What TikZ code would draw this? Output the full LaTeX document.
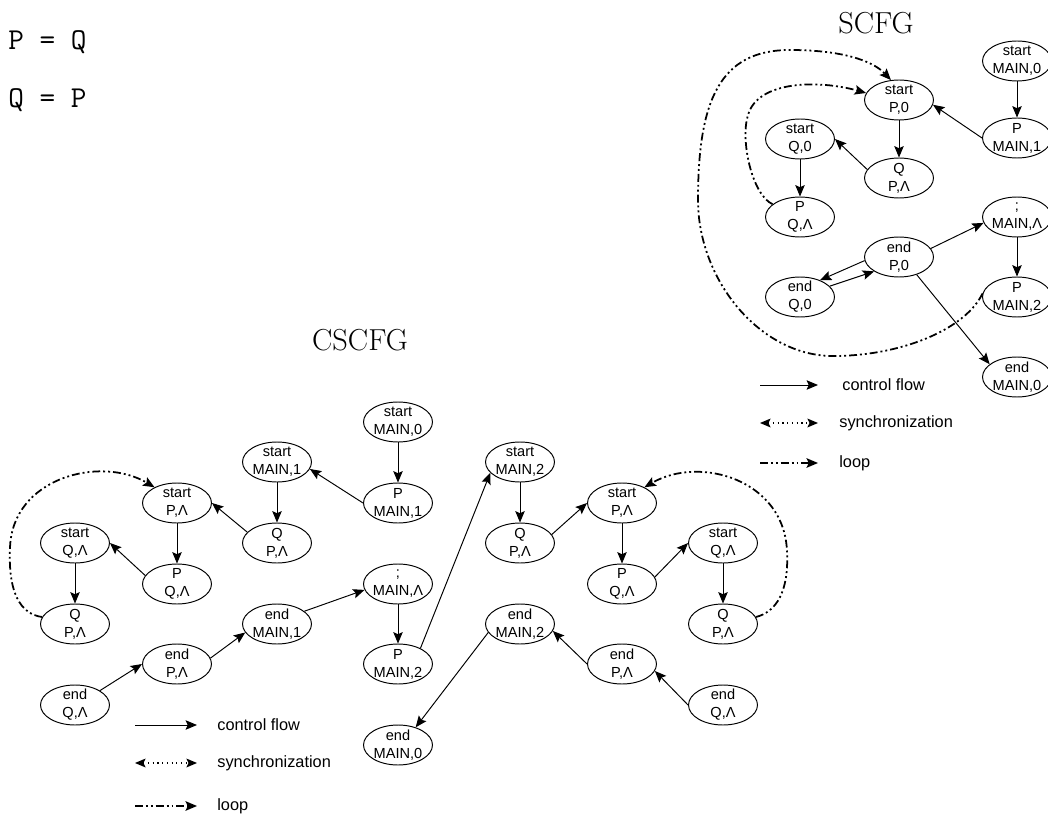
\documentclass[tikz,border=0pt]{standalone}
\usepackage{fontspec}
\newfontfamily\nodefont{Liberation Sans}
\usetikzlibrary{arrows.meta,shapes.geometric}

\begin{document}
\begin{tikzpicture}[x=0.02cm, y=-0.02cm,
  % Node Styles
  cnode/.style={ellipse, draw, line width=0.55pt, minimum width=1.38cm, minimum height=0.8cm, inner xsep=-1pt, inner ysep=-3pt, align=center, font=\nodefont\fontsize{8.3}{10.2}\selectfont},
  heading/.style={font=\LARGE, inner sep=0pt},
  code/.style={anchor=base west, font=\ttfamily\LARGE, inner sep=0pt},
  legtext/.style={anchor=west, inner sep=0pt, font=\nodefont\fontsize{9.3}{11}\selectfont},
  % Arrow Styles
  cflow/.style={-{Stealth[length=6.5pt, width=5.4pt, inset=1.2pt]}, line width=0.55pt},
  sync/.style={{Stealth[length=6pt, width=5pt, inset=1.2pt]}-{Stealth[length=6pt, width=5pt, inset=1.2pt]}, dotted, line width=0.7pt},
  loopflow/.style={-{Stealth[length=6.5pt, width=5.4pt, inset=1.2pt]}, line width=1pt, dash pattern=on 4.5pt off 1.7pt on 1.1pt off 1.7pt on 1.1pt off 1.7pt},
]
\useasboundingbox (0,0) rectangle (1048,814);

% Program
\node[code] (prog_P) at (8,50) {P = Q};
\node[code] (prog_Q) at (8,108) {Q = P};

% SCFG
\node[heading] (S_title) at (876,23) {SCFG};

\node[cnode] (S_start_MAIN0) at (1017,61) {start\\MAIN,0};
\node[cnode] (S_P_MAIN1) at (1017,138) {P\\MAIN,1};
\node[cnode] (S_start_P0) at (899,100) {start\\P,0};
\node[cnode] (S_start_Q0) at (800,139) {start\\Q,0};
\node[cnode] (S_Q_PL) at (899,178) {Q\\P,Λ};
\node[cnode] (S_P_QL) at (800,217) {P\\Q,Λ};
\node[cnode] (S_semi_MAIN) at (1017,217) {;\\MAIN,Λ};
\node[cnode] (S_end_P0) at (899,257) {end\\P,0};
\node[cnode] (S_end_Q0) at (800,297) {end\\Q,0};
\node[cnode] (S_P_MAIN2) at (1017,297) {P\\MAIN,2};
\node[cnode] (S_end_MAIN0) at (1017,377) {end\\MAIN,0};

\draw[cflow] (S_start_MAIN0) -- (S_P_MAIN1);
\draw[cflow] (S_P_MAIN1.west) -- (S_start_P0.-8);
\draw[cflow] (S_start_P0) -- (S_Q_PL);
\draw[cflow] (S_Q_PL.165) -- (S_start_Q0.east);
\draw[cflow] (S_start_Q0) -- (S_P_QL);
\draw[cflow] (S_end_P0.15) -- (S_semi_MAIN.190);
\draw[cflow] (S_semi_MAIN) -- (S_P_MAIN2);
\draw[cflow] (S_end_P0.-45) -- (S_end_MAIN0.155);
\draw[cflow] (S_end_P0.186) -- (S_end_Q0.40);
\draw[cflow] (S_end_Q0.20) -- (S_end_P0.210);

\draw[loopflow] (S_P_QL.155) .. controls (752,195) and (740,140) .. (748,115)
  .. controls (758,80) and (820,80) .. (S_start_P0.168);
\draw[loopflow] (S_P_MAIN2.174) .. controls (965,330) and (900,356) .. (833,356)
  .. controls (760,356) and (698,280) .. (698,200)
  .. controls (698,100) and (720,50) .. (790,50)
  .. controls (840,50) and (872,60) .. (S_start_P0.112);

\coordinate (S_cf_a) at (760,385);
\coordinate (S_cf_b) at (818,385);
\coordinate (S_sy_a) at (760,423);
\coordinate (S_sy_b) at (818,423);
\coordinate (S_lp_a) at (760,463);
\coordinate (S_lp_b) at (818,463);
\draw[cflow] (S_cf_a) -- (S_cf_b);
\draw[sync] (S_sy_a) -- (S_sy_b);
\draw[loopflow] (S_lp_a) -- (S_lp_b);
\node[legtext] (S_cf_txt) at (842,385) {control flow};
\node[legtext] (S_sy_txt) at (839,423) {synchronization};
\node[legtext] (S_lp_txt) at (839,463) {loop};

% CSCFG
\node[heading] (C_title) at (360,340) {CSCFG};

\node[cnode] (C_start_MAIN0) at (398,422) {start\\MAIN,0};
\node[cnode] (C_P_MAIN1) at (398,503) {P\\MAIN,1};
\node[cnode] (C_start_MAIN1) at (277,462) {start\\MAIN,1};
\node[cnode] (C_Q_PL1) at (277,543) {Q\\P,Λ};
\node[cnode] (C_start_PL1) at (177,503) {start\\P,Λ};
\node[cnode] (C_P_QL1) at (177,584) {P\\Q,Λ};
\node[cnode] (C_start_QL1) at (75,543) {start\\Q,Λ};
\node[cnode] (C_Q_PL2) at (75,624) {Q\\P,Λ};
\node[cnode] (C_end_QL1) at (75,705) {end\\Q,Λ};
\node[cnode] (C_end_PL1) at (177,664) {end\\P,Λ};
\node[cnode] (C_end_MAIN1) at (277,624) {end\\MAIN,1};
\node[cnode] (C_semi_MAIN) at (398,584) {;\\MAIN,Λ};
\node[cnode] (C_P_MAIN2) at (398,664) {P\\MAIN,2};
\node[cnode] (C_start_MAIN2) at (520,462) {start\\MAIN,2};
\node[cnode] (C_Q_PL3) at (520,543) {Q\\P,Λ};
\node[cnode] (C_start_PL2) at (622,503) {start\\P,Λ};
\node[cnode] (C_P_QL2) at (622,584) {P\\Q,Λ};
\node[cnode] (C_start_QL2) at (723,543) {start\\Q,Λ};
\node[cnode] (C_Q_PL4) at (723,624) {Q\\P,Λ};
\node[cnode] (C_end_MAIN2) at (520,624) {end\\MAIN,2};
\node[cnode] (C_end_PL2) at (622,664) {end\\P,Λ};
\node[cnode] (C_end_QL2) at (723,705) {end\\Q,Λ};
\node[cnode] (C_end_MAIN0) at (398,745) {end\\MAIN,0};

\draw[cflow] (C_start_MAIN0) -- (C_P_MAIN1);
\draw[cflow] (C_P_MAIN1.west) -- (C_start_MAIN1.-12);
\draw[cflow] (C_start_MAIN1) -- (C_Q_PL1);
\draw[cflow] (C_Q_PL1.160) -- (C_start_PL1.east);
\draw[cflow] (C_start_PL1) -- (C_P_QL1);
\draw[cflow] (C_P_QL1.165) -- (C_start_QL1.east);
\draw[cflow] (C_start_QL1) -- (C_Q_PL2);
\draw[cflow] (C_end_QL1.30) -- (C_end_PL1.west);
\draw[cflow] (C_end_PL1.10) -- (C_end_MAIN1.195);
\draw[cflow] (C_end_MAIN1.25) -- (C_semi_MAIN.190);
\draw[cflow] (C_semi_MAIN) -- (C_P_MAIN2);
\draw[cflow] (C_P_MAIN2.35) -- (C_start_MAIN2.200);
\draw[cflow] (C_start_MAIN2) -- (C_Q_PL3);
\draw[cflow] (C_Q_PL3.15) -- (C_start_PL2.west);
\draw[cflow] (C_start_PL2) -- (C_P_QL2);
\draw[cflow] (C_P_QL2.12) -- (C_start_QL2.west);
\draw[cflow] (C_start_QL2) -- (C_Q_PL4);
\draw[cflow] (C_end_QL2.west) -- (C_end_PL2.-12);
\draw[cflow] (C_end_PL2.west) -- (C_end_MAIN2.-12);
\draw[cflow] (C_end_MAIN2.195) -- (C_end_MAIN0.45);

\draw[loopflow] (C_Q_PL2.168) .. controls (20,614) and (8,592) .. (10,548)
  .. controls (12,478) and (100,455) .. (C_start_PL1.145);
\draw[loopflow] (C_Q_PL4.12) .. controls (776,612) and (789,592) .. (787,552)
  .. controls (785,480) and (700,455) .. (C_start_PL2.35);

\coordinate (C_cf_a) at (135,725);
\coordinate (C_cf_b) at (197,725);
\coordinate (C_sy_a) at (135,763);
\coordinate (C_sy_b) at (197,763);
\coordinate (C_lp_a) at (135,806);
\coordinate (C_lp_b) at (197,806);
\draw[cflow] (C_cf_a) -- (C_cf_b);
\draw[sync] (C_sy_a) -- (C_sy_b);
\draw[loopflow] (C_lp_a) -- (C_lp_b);
\node[legtext] (C_cf_txt) at (217,725) {control flow};
\node[legtext] (C_sy_txt) at (217,763) {synchronization};
\node[legtext] (C_lp_txt) at (217,806) {loop};

\end{tikzpicture}
\end{document}
